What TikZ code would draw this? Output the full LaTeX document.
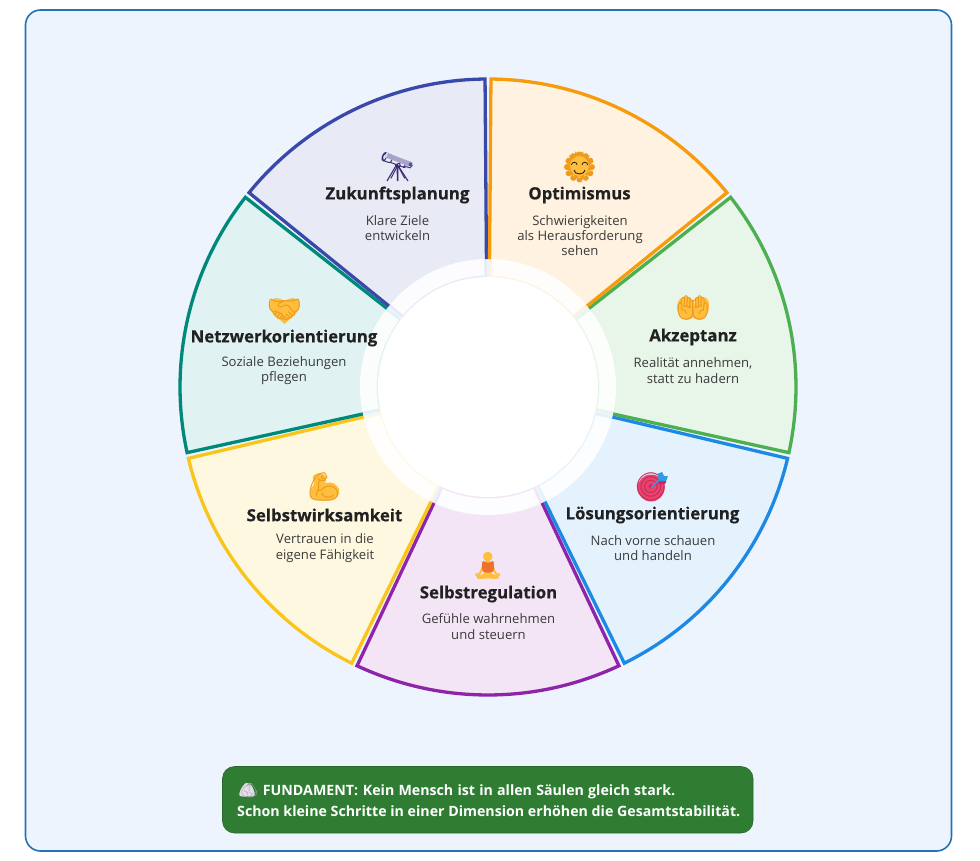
\documentclass[tikz,border=0pt]{standalone}
\usepackage{fontspec}
\setmainfont{Open Sans}
\newfontfamily\emojifont{Noto Emoji}
\newfontfamily\heavyfont[UprightFont=* Bold,FakeBold=0.35]{Open Sans}
\newfontfamily\footfont[UprightFont=* Bold]{Open Sans}
\usetikzlibrary{calc}
\definecolor{cardfill}{HTML}{EEF4FE}
\definecolor{cardline}{HTML}{2272B8}
\definecolor{footfill}{HTML}{2E7D32}
\definecolor{titlecol}{HTML}{212121}
\definecolor{bodycol}{HTML}{3A3A3A}
\definecolor{cA}{HTML}{F59B0C}\definecolor{pA}{HTML}{FFF2E0}
\definecolor{cB}{HTML}{4CAF50}\definecolor{pB}{HTML}{E8F5E9}
\definecolor{cC}{HTML}{1E88E5}\definecolor{pC}{HTML}{E3F2FD}
\definecolor{cD}{HTML}{8E24AA}\definecolor{pD}{HTML}{F3E5F5}
\definecolor{cE}{HTML}{F9C51B}\definecolor{pE}{HTML}{FFF8E1}
\definecolor{cF}{HTML}{00897B}\definecolor{pF}{HTML}{E0F2F1}
\definecolor{cG}{HTML}{3949AB}\definecolor{pG}{HTML}{E8EAF6}
\definecolor{skin}{HTML}{FFBE3D}
\definecolor{skindark}{HTML}{EE9A1B}
\definecolor{rose}{HTML}{E8436F}
\definecolor{rosedark}{HTML}{C92A58}
\definecolor{arrowblue}{HTML}{2F9BE8}
\definecolor{robe}{HTML}{F0702E}
\definecolor{scopedark}{HTML}{3B2C73}
\definecolor{scopetube}{HTML}{A9A3C9}
\definecolor{scopelens}{HTML}{BFE0F7}
\definecolor{scopeend}{HTML}{5B4A9E}
\definecolor{rock}{HTML}{E4DDE8}
\definecolor{rockdark}{HTML}{A79FB0}
\tikzset{x=1pt,y=-1pt,
 titletext/.style={font=\fontsize{16.8}{20}\selectfont\heavyfont,text=titlecol,align=center,anchor=center,inner sep=0pt},
 bodytext/.style={font=\fontsize{13.1}{15.3}\selectfont,text=bodycol,align=center,anchor=center,inner sep=0pt},
 icontext/.style={font=\fontsize{28}{30}\selectfont\emojifont,align=center,anchor=center,inner sep=0pt},
}
\newcommand{\sectorshape}[4]{%
 \pgfmathsetmacro{\angA}{90-(#1)}\pgfmathsetmacro{\angB}{90-(#2)}
 \fill[#4] (488,387) -- ($(488,387)+(\angA-0.55:308 and -308)$) arc[start angle=\angA-0.55,end angle=\angB+0.55,x radius=308,y radius=-308] -- cycle;
}
\newcommand{\sectorline}[3]{%
 \pgfmathsetmacro{\angA}{90-(#1)}\pgfmathsetmacro{\angB}{90-(#2)}
 \draw[#3,line width=3.3pt,miter limit=10]
  ($(488,387)+(\angA-0.7:128 and -128)$) -- ($(488,387)+(\angA-0.55:308 and -308)$)
  arc[start angle=\angA-0.55,end angle=\angB+0.55,x radius=308,y radius=-308]
  -- ($(488,387)+(\angB+0.7:128 and -128)$);
}
\newcommand{\ringpiece}[2]{%
 \pgfmathsetmacro{\angA}{90-(#1)-1.8}\pgfmathsetmacro{\angB}{90-(#2)+1.8}
 \fill[white,opacity=.9] ($(488,387)+(\angA:128 and -128)$)
  arc[start angle=\angA,end angle=\angB,x radius=128,y radius=-128]
  -- ($(488,387)+(\angB:111.5 and -111.5)$)
  arc[start angle=\angB,end angle=\angA,x radius=111.5,y radius=-111.5] -- cycle;
}
\begin{document}
\begin{tikzpicture}
\useasboundingbox (0,0) rectangle (980,861);
\fill[white] (0,0) rectangle (980,861);
\draw[cardline,line width=1.6pt,fill=cardfill,rounded corners=15pt] (25.5,10) rectangle (951.5,851);
\foreach \i/\c/\p in {0/cA/pA,1/cB/pB,2/cC/pC,3/cD/pD,4/cE/pE,5/cF/pF,6/cG/pG}{
 \pgfmathsetmacro{\sa}{\i*360/7}\pgfmathsetmacro{\sb}{(\i+1)*360/7}
 \sectorshape{\sa}{\sb}{\c}{\p}
}
\foreach \i/\c in {3/cD,4/cE,5/cF,6/cG,2/cC,1/cB,0/cA}{
 \pgfmathsetmacro{\sa}{\i*360/7}\pgfmathsetmacro{\sb}{(\i+1)*360/7}
 \sectorline{\sa}{\sb}{\c}
}
\foreach \i in {0,...,6}{
 \pgfmathsetmacro{\sa}{\i*360/7}\pgfmathsetmacro{\sb}{(\i+1)*360/7}
 \ringpiece{\sa}{\sb}
}
\fill[white] (488,387) circle[radius=110];
% Optimismus icon
\foreach \k in {0,30,...,330}{\fill[skindark] ($(579.5,167)+(\k:12.5)$) circle[radius=3];}
\fill[skin] (579.5,167) circle[radius=11];
\node[icontext,text=skindark] (iconA) at (579.5,166) {🌞};
\fill[skin] (579.5,167) circle[radius=9];
\draw[titlecol,line width=.8pt] (571.5,165) arc[start angle=180,end angle=0,x radius=2.8,y radius=-2.8];
\draw[titlecol,line width=.8pt] (582,165) arc[start angle=180,end angle=0,x radius=2.8,y radius=-2.8];
\draw[titlecol,line width=.9pt] (574,170) arc[start angle=180,end angle=360,x radius=5.5,y radius=-4];
\node[titletext] (titleA) at (579.5,195) {Optimismus};
\node[bodytext] (bodyA) at (580,235.5) {Schwierigkeiten\\als Herausforderung\\sehen};
% Akzeptanz icon
\fill[skin] plot[smooth cycle] coordinates {(679,300) (684,297) (691,298) (692,306) (693,317) (686,320) (680,316) (677,308)};
\fill[skin] plot[smooth cycle] coordinates {(708,300) (703,297) (696,298) (694,306) (693,317) (700,320) (706,316) (709,308)};
\node[icontext,text=skindark] (iconB) at (693,308) {🤲};
\node[titletext] (titleB) at (693,337) {Akzeptanz};
\node[bodytext] (bodyB) at (693,370.5) {Realität annehmen,\\statt zu hadern};
% Target icon
\fill[rose] (651,488) circle[radius=13.5];
\node[icontext,text=rosedark] (iconC) at (652,487) {🎯};
\draw[arrowblue,line width=1.6pt] (651,488) -- (662,477);
\fill[arrowblue] (659,480) -- (657,474) -- (662,472) -- (664,476) -- (668,476) -- (666,481) -- (660,481) -- cycle;
\node[titletext] (titleC) at (652.5,515) {Lösungsorientierung};
\node[bodytext] (bodyC) at (653,548) {Nach vorne schauen\\und handeln};
% Selbstregulation icon
\node[icontext,text=skin] (iconD) at (488,566) {🧘};
\fill[robe] plot[smooth cycle] coordinates {(483,561) (488,563) (493,561) (494,566) (492.5,572) (483.5,572) (482,566)};
\node[titletext] (titleD) at (488.5,594) {Selbstregulation};
\node[bodytext] (bodyD) at (488.5,626.5) {Gefühle wahrnehmen\\und steuern};
% Selbstwirksamkeit icon
\fill[skin] plot[smooth cycle] coordinates {(313,476) (320,473) (326,477) (325,483) (321,487) (326,483) (333,483) (339,489) (338,496) (331,500) (318,500) (311,497) (311,489) (314,484)};
\node[icontext,text=skindark] (iconE) at (324,487) {💪};
\node[titletext] (titleE) at (324.5,515) {Selbstwirksamkeit};
\node[bodytext] (bodyE) at (325,548) {Vertrauen in die\\eigene Fähigkeit};
% Netzwerkorientierung icon
\fill[skin] (284.5,324) .. controls (276,316) and (268.5,311) .. (269,304) .. controls (270,297) and (280,296) .. (284.5,302) .. controls (289,296) and (299,297) .. (300,304) .. controls (300.5,311) and (293,316) .. (284.5,324) -- cycle;
\node[icontext,text=skindark] (iconF) at (284.5,310) {🤝};
\node[titletext] (titleF) at (284,338) {Netzwerkorientierung};
\node[bodytext] (bodyF) at (284,370.5) {Soziale Beziehungen\\pflegen};
% Zukunftsplanung icon
\node[icontext,text=scopedark] (iconG) at (397.5,167) {🔭};
\draw[scopedark,line width=1.1pt] (397,164) -- (387,181) (397,164) -- (397.5,181) (397,164) -- (408,181);
\draw[scopetube,line width=4.8pt] (386,155) -- (411,164.5);
\draw[scopelens,line width=5pt] (385.5,155) -- (387,155.6);
\draw[scopeend,line width=3pt] (409,164) -- (412,165);
\node[titletext] (titleG) at (397.5,195) {Zukunftsplanung};
\node[bodytext] (bodyG) at (397.5,228) {Klare Ziele\\entwickeln};
% footer
\draw[footfill!85!black,line width=.6pt,fill=footfill,rounded corners=12pt] (222.5,766.5) rectangle (753,833);
\fill[rock] plot[smooth cycle] coordinates {(240,796) (241,789) (246,783) (251,785) (254,791) (254,796)};
\node[font=\fontsize{14.2}{21}\selectfont\footfont,text=white,align=left,anchor=west,inner sep=0pt] (foot) at (237,800.5)
 {\hspace*{3pt}{\emojifont\color{rockdark}🪨}\hspace{1pt} FUNDAMENT:\hspace{1pt} Kein\hspace{.5pt} Mensch\hspace{.5pt} ist\hspace{.5pt} in\hspace{.5pt} allen\hspace{.5pt} Säulen\hspace{.5pt} gleich\hspace{.5pt} stark.\\Schon kleine Schritte in einer Dimension erhöhen die Gesamtstabilität.};
\end{tikzpicture}
\end{document}
